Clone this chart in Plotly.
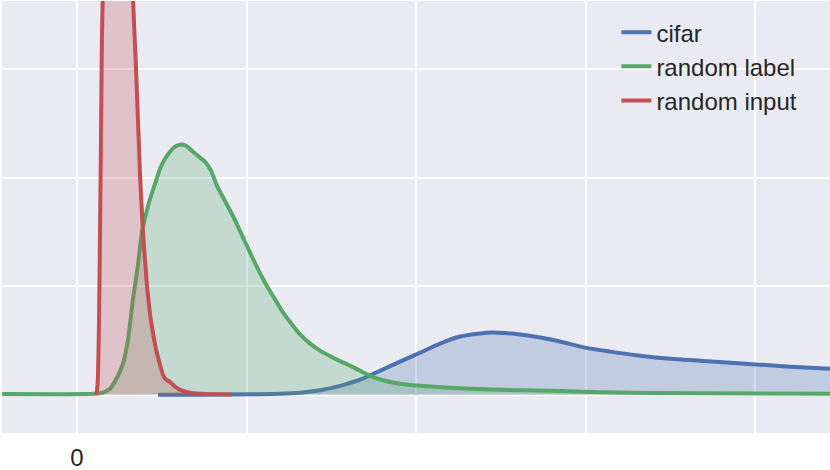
import plotly.graph_objects as go

# cifar (blue)
cifar_x = [0.478, 0.726, 1.021, 1.198, 1.316, 1.434, 1.552, 1.670, 1.788, 1.906, 2.024, 2.142,
           2.260, 2.378, 2.448, 2.525, 2.614, 2.732, 2.850, 2.997, 3.145, 3.322, 3.499, 3.676,
           3.853, 4.029, 4.206, 4.442, 4.6]
cifar_y = [0.0, 0.001, 0.005, 0.009, 0.019, 0.042, 0.083, 0.139, 0.222, 0.306, 0.389, 0.472,
           0.537, 0.565, 0.574, 0.569, 0.556, 0.528, 0.491, 0.435, 0.398, 0.361, 0.333, 0.315,
           0.296, 0.278, 0.259, 0.241, 0.233]

# random label (green)
label_x = [-0.442, -0.100, 0.106, 0.136, 0.165, 0.195, 0.212, 0.242, 0.271, 0.301, 0.330, 0.360,
           0.383, 0.407, 0.431, 0.460, 0.490, 0.519, 0.549, 0.578, 0.608, 0.643, 0.684, 0.720,
           0.755, 0.791, 0.826, 0.873, 0.920, 0.962, 1.003, 1.062, 1.121, 1.168, 1.215, 1.268,
           1.316, 1.375, 1.434, 1.522, 1.611, 1.681, 1.740, 1.817, 1.906, 2.024, 2.201, 2.496,
           2.791, 3.086, 3.676, 4.442]
label_y = [0.007, 0.006, 0.009, 0.014, 0.028, 0.056, 0.093, 0.176, 0.287, 0.509, 0.880, 1.204,
           1.500, 1.667, 1.806, 1.944, 2.083, 2.176, 2.241, 2.287, 2.306, 2.296, 2.241, 2.194,
           2.148, 2.065, 1.926, 1.787, 1.648, 1.509, 1.370, 1.176, 1.000, 0.880, 0.759, 0.648,
           0.556, 0.472, 0.407, 0.333, 0.269, 0.213, 0.167, 0.130, 0.102, 0.083, 0.065, 0.046,
           0.037, 0.023, 0.014, 0.009]

# random input (red)
input_x = [0.112, 0.118, 0.124, 0.130, 0.136, 0.142, 0.147, 0.153, 0.165, 0.183, 0.206, 0.230,
           0.254, 0.283, 0.313, 0.330, 0.348, 0.372, 0.389, 0.413, 0.431, 0.448, 0.466, 0.484,
           0.507, 0.525, 0.549, 0.572, 0.608, 0.667, 0.726, 0.814, 0.914]
input_y = [0.0, 0.04, 0.19, 0.69, 1.53, 2.45, 3.29, 3.75, 4.6, 5.5, 6.1, 6.3,
           6.2, 5.6, 4.4, 3.66, 3.01, 2.02, 1.50, 1.0, 0.74, 0.57, 0.42, 0.31,
           0.185, 0.14, 0.12, 0.083, 0.046, 0.02, 0.01, 0.005, 0.002]

x_tickvals = [0, 1, 2, 3, 4]
x_ticktext = ["0", "", "", "", ""]
y_tickvals = [0, 1, 2, 3]

series = [
    ("cifar", cifar_x, cifar_y, "#4C72B0", "rgba(76,114,176,0.25)", 0.8),
    ("random label", label_x, label_y, "#55A868", "rgba(85,168,104,0.25)", 0.6),
    ("random input", input_x, input_y, "#C44E52", "rgba(196,78,82,0.25)", 0.3),
]

fig = go.Figure()
for name, xs, ys, col, fcol, sm in series:
    fig.add_trace(go.Scatter(x=xs, y=ys, name=name, mode="lines", showlegend=False,
                             line=dict(color=col, width=4, shape="spline", smoothing=sm),
                             fill="tozeroy", fillcolor=fcol))
for name, xs, ys, col, fcol, sm in series:
    fig.add_trace(go.Scatter(x=[None], y=[None], name=name, mode="lines", showlegend=True,
                             line=dict(color=col, width=4)))

fig.update_layout(
    width=830, height=470,
    margin=dict(l=2, r=0, t=1, b=37),
    paper_bgcolor="white",
    plot_bgcolor="#EAEAF2",
    font=dict(family="Liberation Sans, Arial, sans-serif", size=24, color="#262626"),
    showlegend=True,
    legend=dict(x=0.742, y=0.979, xanchor="left", yanchor="top", tracegroupgap=0,
                bgcolor="rgba(0,0,0,0)", font=dict(size=24, color="#262626")),
    xaxis=dict(range=[-0.4425, 4.442], tickvals=x_tickvals, ticktext=x_ticktext,
               showgrid=True, gridcolor="white", gridwidth=2, zeroline=False,
               showline=False, ticks="", ticklabelstandoff=8, automargin=False),
    yaxis=dict(range=[-0.352, 3.63], tickvals=y_tickvals, showticklabels=False,
               showgrid=True, gridcolor="white", gridwidth=2, zeroline=False,
               showline=False, ticks="", automargin=False),
)

fig.write_html("out.html", config={"displayModeBar": False},
               post_script="document.body.style.margin='0';document.body.style.padding='0';")
